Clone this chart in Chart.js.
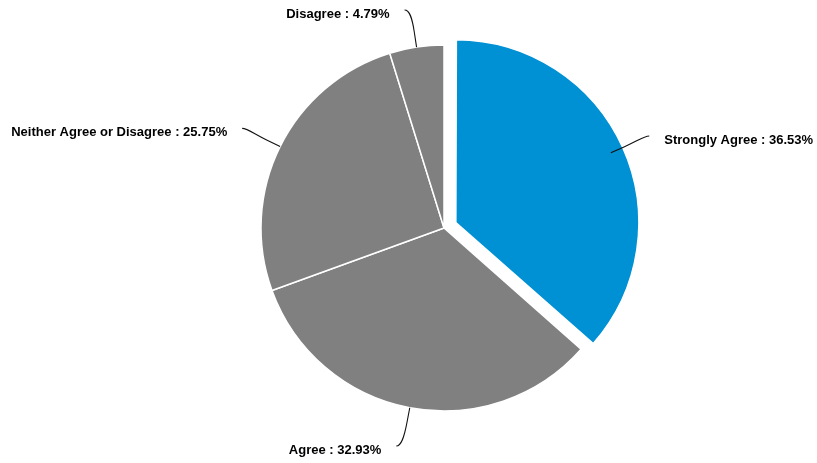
<!DOCTYPE html>
<html>
<head>
<meta charset="utf-8">
<script src="https://cdn.jsdelivr.net/npm/chart.js@4/dist/chart.umd.min.js"></script>
<style>
  html, body { margin: 0; padding: 0; background: #ffffff; }
  #wrap { width: 817px; height: 463px; }
</style>
</head>
<body>
<div id="wrap"><canvas id="pie" width="817" height="463"></canvas></div>
<script>
// Survey response shares (percent)
const categories = ['Strongly Agree', 'Agree', 'Neither Agree or Disagree', 'Disagree'];
const shares = [36.53, 32.93, 25.75, 4.79];
const sliceColors = ['#0090D4', '#808080', '#808080', '#808080'];
// Chart.js moves an arc out by a quarter of its offset value, so 52 gives 13px
const pulledOut = [52, 0, 0, 0];

// Chart.js also widens an exploded arc a little; keep every slice at the pie radius
const keepRadius = {
  id: 'keepRadius',
  beforeDatasetsDraw(chart) {
    const meta = chart.getDatasetMeta(0);
    const base = meta.controller.outerRadius;
    meta.data.forEach((arc) => {
      const off = (arc.options.offset || 0) / 4;
      const fix = 1 - Math.sin(Math.min(Math.PI, arc.circumference || 0));
      arc.outerRadius = base - off * fix;
    });
  }
};

// Outside labels joined to their slices by soft connector lines
const connectorLabels = {
  id: 'connectorLabels',
  afterDatasetsDraw(chart) {
    const ctx = chart.ctx;
    const meta = chart.getDatasetMeta(0);
    const values = chart.data.datasets[0].data;
    const radius = meta.controller.outerRadius;
    ctx.save();
    ctx.font = "bold 13px 'Liberation Sans', Arial, sans-serif";
    ctx.textBaseline = 'middle';
    meta.data.forEach((arc, i) => {
      const { x, y, startAngle, endAngle } =
        arc.getProps(['x', 'y', 'startAngle', 'endAngle'], true);
      const mid = (startAngle + endAngle) / 2;
      const dx = Math.cos(mid), dy = Math.sin(mid);
      const side = dx >= 0 ? 1 : -1;
      const touch = { x: x + radius * dx, y: y + radius * dy };
      const brk = { x: x + (radius + 15) * dx, y: y + (radius + 15) * dy };
      const R = radius + 41;
      // near-vertical labels are pushed a little sideways, and kept inside the canvas
      const px = x + R * dx + side * 6 * dy * dy;
      const py = Math.min(Math.max(y + R * dy, 10), chart.height - 17);

      ctx.beginPath();
      ctx.moveTo(px, py);
      ctx.bezierCurveTo(px - side * 5, py,
                        2 * brk.x - touch.x, 2 * brk.y - touch.y,
                        brk.x, brk.y);
      ctx.lineTo(touch.x, touch.y);
      ctx.strokeStyle = '#111111';
      ctx.lineWidth = 1.1;
      ctx.stroke();

      ctx.fillStyle = '#000000';
      ctx.textAlign = side > 0 ? 'left' : 'right';
      const text = chart.data.labels[i] + ' : ' + values[i].toFixed(2) + '%';
      ctx.fillText(text, px + side * 15, py + 4);
    });
    ctx.restore();
  }
};

new Chart(document.getElementById('pie'), {
  type: 'pie',
  data: {
    labels: categories,
    datasets: [{
      data: shares,
      backgroundColor: sliceColors,
      borderColor: '#ffffff',
      borderWidth: 1.5,
      offset: pulledOut,
      hoverOffset: 0
    }]
  },
  options: {
    responsive: false,
    animation: false,
    radius: 183,
    layout: { padding: { left: 71, right: 0, top: 0, bottom: 7 } },
    plugins: {
      legend: { display: false },
      tooltip: { enabled: false }
    }
  },
  plugins: [keepRadius, connectorLabels]
});
</script>
</body>
</html>
